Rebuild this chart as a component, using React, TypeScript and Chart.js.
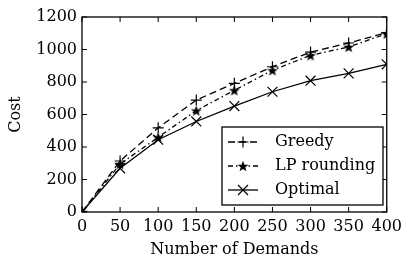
import React, { useEffect, useRef } from "react";
import { Chart, registerables } from "chart.js";

Chart.register(...registerables);

const demands = [0, 50, 100, 150, 200, 250, 300, 350, 400];
const greedy = [0, 314, 518, 689, 792, 894, 984, 1040, 1104];
const lpRounding = [0, 295, 460, 624, 749, 872, 964, 1016, 1097];
const optimal = [0, 269, 445, 557, 652, 740, 808, 853, 909];
const seriesLabels = ["Greedy", "LP rounding", "Optimal"];
const xTicks = [0, 50, 100, 150, 200, 250, 300, 350, 400];
const yTicks = [0, 200, 400, 600, 800, 1000, 1200];

const W = 407;
const H = 259;
const FONT = "'DejaVu Serif', serif";
const FS = 16;

function makeStar(): HTMLCanvasElement {
  const R = 5.8;
  const r = 2.4;
  const size = 14;
  const c = document.createElement("canvas");
  c.width = size;
  c.height = size;
  const ctx = c.getContext("2d")!;
  const cx = size / 2;
  const cy = size / 2 + 0.6;
  ctx.beginPath();
  for (let i = 0; i < 10; i++) {
    const rad = i % 2 === 0 ? R : r;
    const a = -Math.PI / 2 + (i * Math.PI) / 5;
    const px = cx + rad * Math.cos(a);
    const py = cy + rad * Math.sin(a);
    if (i === 0) ctx.moveTo(px, py);
    else ctx.lineTo(px, py);
  }
  ctx.closePath();
  ctx.fillStyle = "#000";
  ctx.fill();
  return c;
}

export default function App() {
  const ref = useRef<HTMLCanvasElement | null>(null);

  useEffect(() => {
    if (!ref.current) return;
    const star = makeStar();
    const dashes = [[7, 4], [5, 3, 1.5, 3], []];
    const styles: any[] = ["cross", star, "crossRot"];
    const radii = [5.5, 5.8, 7];

    const framePlugin = {
      id: "frame",
      afterDatasetsDraw(chart: any) {
        const { ctx, chartArea: a, scales } = chart;
        ctx.save();
        ctx.strokeStyle = "#000";
        ctx.lineWidth = 1.3;
        ctx.strokeRect(a.left, a.top, a.right - a.left, a.bottom - a.top);
        ctx.lineWidth = 1;
        ctx.beginPath();
        for (const v of xTicks) {
          const x = scales.x.getPixelForValue(v);
          ctx.moveTo(x, a.bottom);
          ctx.lineTo(x, a.bottom - 5);
          ctx.moveTo(x, a.top);
          ctx.lineTo(x, a.top + 5);
        }
        for (const v of yTicks) {
          const y = scales.y.getPixelForValue(v);
          ctx.moveTo(a.left, y);
          ctx.lineTo(a.left + 5, y);
          ctx.moveTo(a.right, y);
          ctx.lineTo(a.right - 5, y);
        }
        ctx.stroke();

        // legend
        const lx0 = 222, lx1 = 383, ly0 = 127, ly1 = 205;
        ctx.fillStyle = "#fff";
        ctx.fillRect(lx0, ly0, lx1 - lx0, ly1 - ly0);
        ctx.lineWidth = 1.3;
        ctx.strokeStyle = "#000";
        ctx.strokeRect(lx0, ly0, lx1 - lx0, ly1 - ly0);
        const rows = [142, 166, 190];
        chart.data.datasets.forEach((ds: any, i: number) => {
          const y = rows[i];
          ctx.save();
          ctx.setLineDash(dashes[i]);
          ctx.lineWidth = 1.3;
          ctx.beginPath();
          ctx.moveTo(228, y);
          ctx.lineTo(258, y);
          ctx.stroke();
          ctx.restore();
          const mx = 243;
          ctx.lineWidth = 1.2;
          if (i === 0) {
            ctx.beginPath();
            ctx.moveTo(mx - 5.5, y);
            ctx.lineTo(mx + 5.5, y);
            ctx.moveTo(mx, y - 5.5);
            ctx.lineTo(mx, y + 5.5);
            ctx.stroke();
          } else if (i === 1) {
            ctx.drawImage(star, mx - star.width / 2, y - star.height / 2);
          } else {
            const d = 5;
            ctx.beginPath();
            ctx.moveTo(mx - d, y - d);
            ctx.lineTo(mx + d, y + d);
            ctx.moveTo(mx - d, y + d);
            ctx.lineTo(mx + d, y - d);
            ctx.stroke();
          }
          ctx.fillStyle = "#000";
          ctx.font = `${FS}px ${FONT}`;
          ctx.textBaseline = "middle";
          ctx.textAlign = "left";
          ctx.fillText(ds.label, 275, y);
        });
        ctx.restore();
      },
    };

    const series = [greedy, lpRounding, optimal];
    const chart = new Chart(ref.current, {
      type: "line",
      data: {
        datasets: series.map((vals, i) => ({
          label: seriesLabels[i],
          data: demands.map((d, j) => ({ x: d, y: vals[j] })),
          borderColor: "#000",
          backgroundColor: "#000",
          borderWidth: 1.3,
          borderDash: dashes[i],
          pointStyle: styles[i],
          pointRadius: radii[i],
          pointBorderWidth: 1.2,
          pointBorderColor: "#000",
          pointBackgroundColor: "#000",
          fill: false,
          tension: 0,
        })),
      },
      options: {
        responsive: false,
        animation: false,
        devicePixelRatio: 1,
        layout: { padding: { top: 17, right: 17, left: 0, bottom: 0 } },
        plugins: {
          legend: { display: false },
          tooltip: { enabled: false },
        },
        scales: {
          x: {
            type: "linear",
            min: 0,
            max: 400,
            afterFit: (s: any) => {
              s.height = 47;
            },
            afterBuildTicks: (s: any) => {
              s.ticks = xTicks.map((v) => ({ value: v }));
            },
            grid: { display: false, drawTicks: false },
            border: { display: false },
            ticks: {
              color: "#000",
              font: { family: FONT, size: FS },
              padding: 5,
              maxRotation: 0,
              autoSkip: false,
              callback: (v: any) => String(v),
            },
            title: {
              display: true,
              text: "Number of Demands",
              color: "#000",
              font: { family: FONT, size: FS },
              padding: { top: 0, bottom: 0 },
            },
          },
          y: {
            type: "linear",
            min: 0,
            max: 1200,
            afterFit: (s: any) => {
              s.width = 82;
            },
            afterBuildTicks: (s: any) => {
              s.ticks = yTicks.map((v) => ({ value: v }));
            },
            grid: { display: false, drawTicks: false },
            border: { display: false },
            ticks: {
              color: "#000",
              font: { family: FONT, size: FS },
              padding: 5,
              autoSkip: false,
              callback: (v: any) => String(v),
            },
            title: {
              display: true,
              text: "Cost",
              color: "#000",
              font: { family: FONT, size: FS },
              padding: { top: 6, bottom: 0 },
            },
          },
        },
      },
      plugins: [framePlugin],
    });
    return () => chart.destroy();
  }, []);

  return (
    <div style={{ position: "fixed", left: 0, top: 0, width: W, height: H, background: "#fff" }}>
      <canvas ref={ref} width={W} height={H} style={{ width: W, height: H, display: "block" }} />
    </div>
  );
}
